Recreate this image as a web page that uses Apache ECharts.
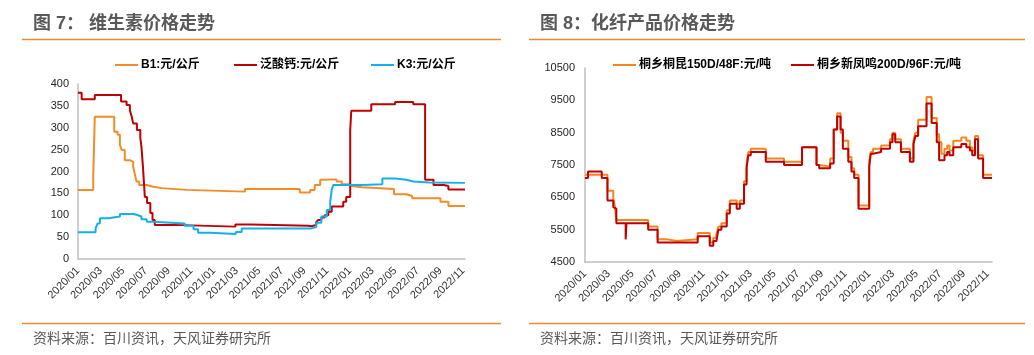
<!DOCTYPE html>
<html><head><meta charset="utf-8">
<script src="https://cdn.jsdelivr.net/npm/echarts@6/dist/echarts.min.js"></script>
<style>html,body{margin:0;padding:0;background:#fff}#c{width:1034px;height:355px}</style>
</head><body><div id="c"></div>
<script>
// ---------- Figure 7: vitamin prices (元/公斤) ----------
const b1Name = 'B1:元/公斤';
const b1Dates = ['2020-01-01','2020-02-11','2020-02-15','2020-04-07','2020-04-16','2020-04-22','2020-04-27','2020-05-05','2020-05-19','2020-05-28','2020-06-02','2020-06-06','2020-06-13','2020-07-03','2020-07-21','2020-08-13','2020-10-19','2021-03-24','2021-08-19','2021-09-16','2021-09-28','2021-10-13','2021-10-19','2021-11-26','2021-12-10','2021-12-28','2022-01-07','2022-02-03','2022-04-28','2022-06-01','2022-06-16','2022-09-01','2022-09-22','2022-11-06'];
const b1Values = [158,190,325,291,284,261,249,226,222,211,192,177,169,165,162,158,154,160,152,158,169,181,182,177,171,167,164,160,148,144,139,131,121,121];

const capName = '泛酸钙:元/公斤';
const capDates = ['2020-01-01','2020-01-11','2020-02-15','2020-04-25','2020-05-10','2020-05-19','2020-05-24','2020-05-28','2020-06-07','2020-06-16','2020-06-19','2020-06-23','2020-06-28','2020-07-04','2020-07-13','2020-07-19','2020-07-25','2020-09-13','2021-02-26','2021-04-10','2021-09-11','2021-09-19','2021-10-02','2021-10-07','2021-10-16','2021-10-25','2021-11-04','2021-11-13','2021-12-14','2021-12-22','2022-01-02','2022-01-05','2022-02-26','2022-05-01','2022-06-19','2022-07-21','2022-08-13','2022-09-10','2022-09-22','2022-11-06'];
const capValues = [380,365,375,360,352,340,325,310,295,277,257,211,142,128,105,89,78,74,79,76,75,78,84,89,95,100,108,120,131,142,295,339,354,359,354,181,169,167,159,159];

const k3Name = 'K3:元/公斤';
const k3Dates = ['2020-01-01','2020-02-17','2020-02-22','2020-02-28','2020-03-22','2020-04-22','2020-05-28','2020-06-06','2020-06-19','2020-07-03','2020-07-21','2020-10-14','2020-11-07','2020-11-19','2020-12-21','2021-02-27','2021-03-15','2021-09-11','2021-09-19','2021-10-02','2021-10-16','2021-10-31','2021-11-09','2021-11-13','2021-11-17','2022-02-03','2022-03-28','2022-05-01','2022-06-01','2022-06-19','2022-08-01','2022-11-06'];
const k3Values = [61,70,81,93,97,103,101,97,91,85,81,76,68,60,57,62,70,70,73,83,97,112,131,158,169,171,184,181,177,175,174,174];

const leftYTicks = {min: 0, max: 400, interval: 50};
const leftEnd = '2022-11-06';

// ---------- Figure 8: chemical fibre prices (元/吨) ----------
const kunName = '桐乡桐昆150D/48F:元/吨';
const fengName = '桐乡新凤鸣200D/96F:元/吨';
const fibreDates = ['2020-01-01','2020-01-09','2020-02-13','2020-02-27','2020-03-13','2020-03-17','2020-03-21','2020-04-14','2020-04-16','2020-06-11','2020-07-05','2020-07-31','2020-08-24','2020-10-17','2020-11-17','2020-11-26','2020-12-04','2020-12-09','2020-12-17','2020-12-31','2021-01-08','2021-01-26','2021-02-03','2021-02-13','2021-02-19','2021-02-23','2021-03-01','2021-04-09','2021-05-26','2021-07-11','2021-08-18','2021-08-25','2021-09-22','2021-10-01','2021-10-10','2021-10-19','2021-10-25','2021-11-08','2021-11-16','2021-11-23','2021-12-04','2022-01-01','2022-01-05','2022-01-11','2022-02-01','2022-02-22','2022-02-28','2022-03-07','2022-03-22','2022-04-14','2022-04-23','2022-04-28','2022-05-05','2022-05-27','2022-06-09','2022-06-22','2022-06-28','2022-07-04','2022-07-12','2022-07-19','2022-07-25','2022-08-04','2022-08-25','2022-09-07','2022-09-16','2022-09-22','2022-09-29','2022-10-07','2022-10-20','2022-11-12'];
const kunValues = [7200,7200,7200,6700,6450,6250,5800,5800,5800,5600,5200,5150,5200,5400,5100,5250,5350,5600,5700,6100,6400,6300,6400,7000,7500,7900,8000,7700,7600,8050,7500,7450,7700,8600,9100,8500,8250,7750,7400,7200,6250,7600,7900,8000,8100,8300,8500,8300,8000,7700,8250,8500,8900,9600,8950,8450,8200,7850,8000,8100,7950,8250,8350,8250,8050,7950,8400,7800,7200,7200];
const fengValues = [7100,7300,7100,6400,6200,6150,5700,5200,5700,5500,5100,5100,5100,5300,5000,5150,5200,5500,5600,6000,6300,6150,6300,6900,7400,7800,7900,7600,7500,8050,7500,7400,7550,8600,9000,8600,8000,7600,7300,7100,6150,7450,7850,7900,8000,8200,8450,8200,7900,7600,8150,8400,8700,9400,8800,8200,7650,7650,7800,7900,7800,8050,8150,8050,7950,7800,8300,7700,7100,7100];

const rightYTicks = {min: 4500, max: 10500, interval: 1000};
const rightEnd = '2022-11-12';

// ---------- helpers ----------
function toM(s) {
  const p = s.split('-').map(Number);
  const dim = new Date(p[0], p[1], 0).getDate();
  return (p[0] - 2020) * 12 + (p[1] - 1) + (p[2] - 1) / dim;
}
function pairs(dates, vals) { return dates.map((d, i) => [toM(d), vals[i]]); }
function monthLabel(v) {
  if (Math.abs(v - Math.round(v)) > 1e-6) return '';
  v = Math.round(v);
  const y = 2020 + Math.floor(v / 12), m = v % 12 + 1;
  return y + '/' + (m < 10 ? '0' + m : m);
}

const FONT = '"Liberation Sans","Noto Sans CJK SC",Arial,sans-serif';
const ORANGE_RULE = '#EB8A36';
const axisLineStyle = {show: true, lineStyle: {color: '#BFBFBF', width: 1.5}};

function xAxisDef(gridIndex, endDate) {
  return {
    type: 'value', gridIndex, min: 0, max: toM(endDate), interval: 2,
    axisLine: axisLineStyle, axisTick: {show: false}, splitLine: {show: false},
    axisLabel: {rotate: 45, margin: 10, fontSize: 11, color: '#333', fontFamily: FONT,
      showMaxLabel: false, formatter: monthLabel}
  };
}
function yAxisDef(gridIndex, t, margin) {
  return {
    type: 'value', gridIndex, min: t.min, max: t.max, interval: t.interval,
    axisLine: axisLineStyle, axisTick: {show: false}, splitLine: {show: false},
    axisLabel: {margin, fontSize: 11, color: '#262626', fontFamily: FONT, formatter: v => String(v)}
  };
}
function lineSeries(name, data, color, axisIdx) {
  return {name, type: 'line', xAxisIndex: axisIdx, yAxisIndex: axisIdx, data,
    step: 'end', showSymbol: false, symbol: 'none', lineStyle: {color, width: 2}, itemStyle: {color}};
}
function legendDef(name, left) {
  return {data: [name], left, top: 54, itemWidth: 23, itemHeight: 2, icon: 'rect', itemGap: 0,
    textStyle: {fontSize: 12, fontWeight: 'bold', color: '#000', fontFamily: FONT, padding: [0, 0, 0, -2]}};
}

const chart = echarts.init(document.getElementById('c'), null, {renderer: 'canvas'});
chart.setOption({
  animation: false,
  backgroundColor: '#fff',
  grid: [
    {left: 78, top: 84, width: 387, height: 175},
    {left: 585, top: 68, width: 407, height: 194}
  ],
  xAxis: [xAxisDef(0, leftEnd), xAxisDef(1, rightEnd)],
  yAxis: [yAxisDef(0, leftYTicks, 9), yAxisDef(1, rightYTicks, 10)],
  legend: [legendDef(b1Name, 110), legendDef(capName, 229), legendDef(k3Name, 366),
           legendDef(kunName, 608), legendDef(fengName, 786)],
  series: [
    lineSeries(b1Name, pairs(b1Dates, b1Values), '#F28C28', 0),
    lineSeries(capName, pairs(capDates, capValues), '#C00000', 0),
    lineSeries(k3Name, pairs(k3Dates, k3Values), '#14B0EC', 0),
    lineSeries(kunName, pairs(fibreDates, kunValues), '#F5861F', 1),
    lineSeries(fengName, pairs(fibreDates, fengValues), '#C00000', 1)
  ],
  graphic: [
    {type: 'text', left: 33, top: 15, style: {text: '图 7： 维生素价格走势', font: 'bold 18px ' + FONT, fill: '#595959'}},
    {type: 'text', left: 540, top: 15, style: {text: '图 8：化纤产品价格走势', font: 'bold 18px ' + FONT, fill: '#595959'}},
    {type: 'line', shape: {x1: 22, y1: 39.5, x2: 501, y2: 39.5}, style: {stroke: ORANGE_RULE, lineWidth: 1.5}},
    {type: 'line', shape: {x1: 529, y1: 39.5, x2: 1025, y2: 39.5}, style: {stroke: ORANGE_RULE, lineWidth: 1.5}},
    {type: 'line', shape: {x1: 22, y1: 323.5, x2: 501, y2: 323.5}, style: {stroke: ORANGE_RULE, lineWidth: 1.5}},
    {type: 'line', shape: {x1: 529, y1: 323.5, x2: 1025, y2: 323.5}, style: {stroke: ORANGE_RULE, lineWidth: 1.5}},
    {type: 'text', left: 33, top: 332, style: {text: '资料来源：百川资讯，天风证券研究所', font: '14px ' + FONT, fill: '#595959'}},
    {type: 'text', left: 540, top: 332, style: {text: '资料来源：百川资讯，天风证券研究所', font: '14px ' + FONT, fill: '#595959'}}
  ]
});
</script>
</body></html>
